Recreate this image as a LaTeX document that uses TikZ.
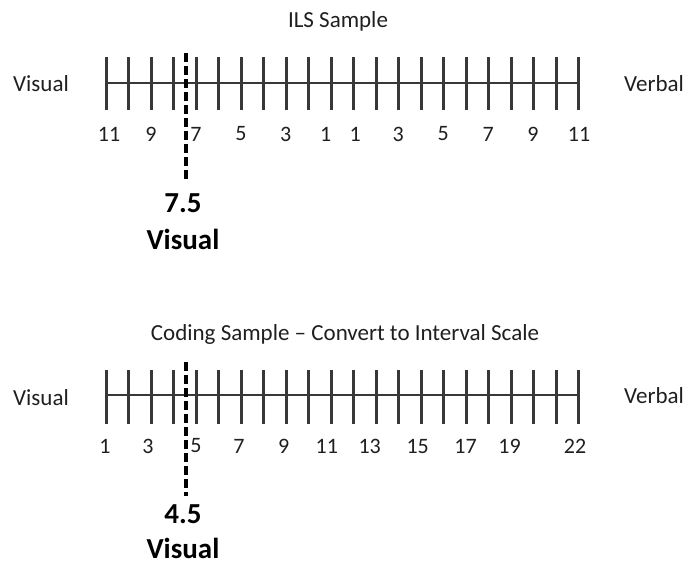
\documentclass[tikz,border=0pt]{standalone}
\usepackage{fontspec}
\setmainfont{Carlito}
\begin{document}
\begin{tikzpicture}[x=1pt,y=-1pt,
  lbl/.style={font=\fontsize{23}{25}\selectfont, text=black!88, inner sep=0pt},
  num/.style={font=\fontsize{22}{24}\selectfont, text=black!88, inner sep=0pt},
  big/.style={font=\fontsize{29}{31}\selectfont\bfseries, text=black, inner sep=0pt},
  axisline/.style={draw=black!78, line width=2pt},
  tickline/.style={draw=black!78, line width=3pt},
  marker/.style={draw=black, line width=4pt, dash pattern=on 9pt off 4pt}]
\useasboundingbox (0,0) rectangle (688,565);
% ---------- top scale ----------
\node[lbl] (t1) at (338,21) {ILS Sample};
\node[lbl] (vis1) at (41,84) {Visual};
\node[lbl] (ver1) at (654,84) {Verbal};
\coordinate (a1s) at (106,83);
\coordinate (a1e) at (578,83);
\draw[axisline] (a1s) -- (a1e);
\foreach \i in {0,...,21}{
  \pgfmathsetmacro{\tx}{round(106+\i*22.476)+0.5}
  \draw[tickline] (\tx,57) -- (\tx,110);
}
\foreach \i/\t/\dx in {0/11/3,2/9/0,4/7/0,6/5/0,8/3/0,10/1/-5,11/1/2,13/3/0,15/5/0,17/7/0,19/9/0,21/11/1}{
  \node[num] (n1-\i) at ({106+\i*22.476+\dx},134) {\t};
}
\coordinate (d1s) at (186,53);
\coordinate (d1e) at (186,182);
\draw[marker] (d1s) -- (d1e);
\node[big] (v1) at (183,203) {7.5};
\node[big] (w1) at (183,239) {Visual};
% ---------- bottom scale ----------
\node[lbl] (t2) at (345,334) {Coding Sample -- Convert to Interval Scale};
\node[lbl] (vis2) at (41,398) {Visual};
\node[lbl] (ver2) at (654,396) {Verbal};
\coordinate (a2s) at (106,395);
\coordinate (a2e) at (578,395);
\draw[axisline] (a2s) -- (a2e);
\foreach \i in {0,...,21}{
  \pgfmathsetmacro{\tx}{round(106+\i*22.476)+0.5}
  \draw[tickline] (\tx,370) -- (\tx,424);
}
\foreach \i/\t/\dx in {0/1/-1,2/3/-3,4/5/0,6/7/-2,8/9/-2,10/11/-4,12/13/-6,14/15/-3,16/17/0,18/19/-1,21/22/-3}{
  \node[num] (n2-\i) at ({106+\i*22.476+\dx},446) {\t};
}
\coordinate (d2s) at (186,362);
\coordinate (d2e) at (186,496);
\draw[marker] (d2s) -- (d2e);
\node[big] (v2) at (183,514) {4.5};
\node[big] (w2) at (183,548) {Visual};
\end{tikzpicture}
\end{document}
